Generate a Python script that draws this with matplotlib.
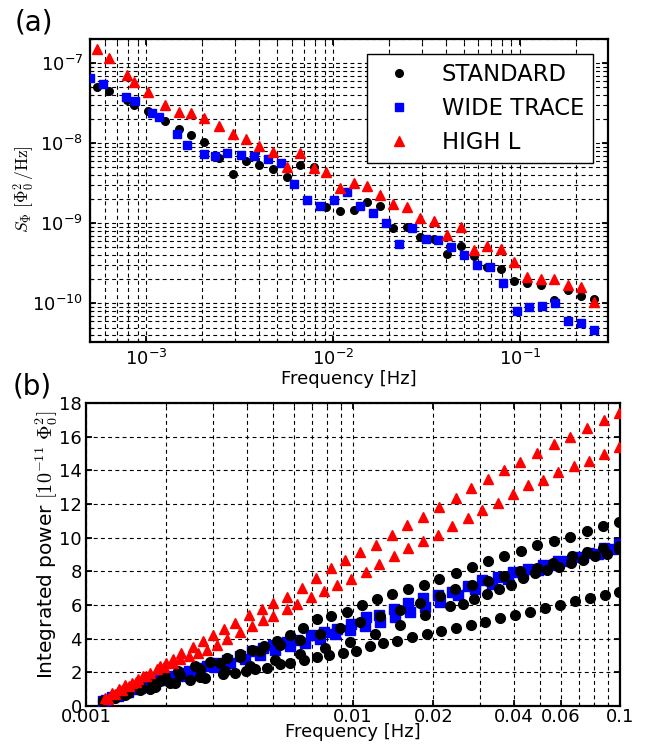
import numpy as np
import matplotlib
matplotlib.use("Agg")
import matplotlib.pyplot as plt
from matplotlib.ticker import LogLocator, NullFormatter, FixedLocator, FixedFormatter, MultipleLocator

plt.rcParams['font.family'] = ['DejaVu Sans']
plt.rcParams['mathtext.fontset'] = 'cm'

# ---------------- panel (a): noise spectral density ----------------
std_f = [5.48e-4, 6.30e-4, 7.86e-4, 8.62e-4, 1.022e-3, 1.261e-3, 1.493e-3, 1.734e-3, 2.048e-3,
         2.439e-3, 2.910e-3, 3.412e-3, 4.010e-3, 4.788e-3, 5.664e-3, 6.625e-3, 7.873e-3, 9.219e-3,
         1.0955e-2, 1.289e-2, 1.519e-2, 1.792e-2, 2.104e-2, 2.488e-2, 2.935e-2, 3.458e-2, 4.074e-2,
         4.813e-2, 5.664e-2, 6.675e-2, 7.873e-2, 9.276e-2, 0.1093, 0.1289, 0.1519, 0.1806, 0.2112, 0.2488]
std_S = [5.09e-8, 4.46e-8, 3.47e-8, 3.03e-8, 2.50e-8, 1.909e-8, 1.515e-8, 1.252e-8, 1.023e-8,
         6.51e-9, 4.18e-9, 6.02e-9, 5.36e-9, 4.83e-9, 3.84e-9, 5.32e-9, 5.06e-9, 1.596e-9,
         1.410e-9, 1.481e-9, 1.828e-9, 1.629e-9, 8.63e-10, 8.96e-10, 6.66e-10, 6.34e-10, 4.11e-10,
         5.24e-10, 3.93e-10, 2.88e-10, 2.67e-10, 1.91e-10, 1.80e-10, 1.715e-10, 1.112e-10, 1.485e-10,
         1.224e-10, 1.135e-10]
highL_S = [1.510e-7, 1.155e-7, 7.13e-8, 5.88e-8, 4.37e-8, 3.00e-8, 2.45e-8, 2.36e-8, 2.05e-8,
           1.624e-8, 1.289e-8, 1.116e-8, 9.20e-9, 7.80e-9, 5.12e-9, 7.58e-9, 4.97e-9, 4.43e-9,
           2.78e-9, 3.23e-9, 2.93e-9, 2.24e-9, 1.74e-9, 1.61e-9, 1.162e-9, 1.066e-9, 7.11e-10,
           8.88e-10, 4.61e-10, 5.24e-10, 4.75e-10, 3.30e-10, 2.14e-10, 2.04e-10, 2.00e-10, 1.68e-10,
           1.605e-10, 1.050e-10]
wide_f = [4.99e-4, 5.86e-4, 7.81e-4, 8.69e-4, 1.067e-3, 1.168e-3, 1.453e-3, 1.650e-3, 2.035e-3,
          2.330e-3, 2.703e-3, 3.212e-3, 3.770e-3, 4.503e-3, 5.260e-3, 6.204e-3, 7.248e-3, 8.478e-3,
          1.0074e-2, 1.183e-2, 1.401e-2, 1.636e-2, 1.930e-2, 2.254e-2, 2.660e-2, 3.133e-2, 3.647e-2,
          4.302e-2, 5.024e-2, 5.876e-2, 6.924e-2, 8.128e-2, 9.590e-2, 0.1120, 0.1310, 0.1543, 0.1812,
          0.2120, 0.2497]
wide_S = [6.49e-8, 5.45e-8, 3.82e-8, 3.37e-8, 2.40e-8, 2.10e-8, 1.289e-8, 9.38e-9, 7.24e-9,
          6.83e-9, 7.51e-9, 7.10e-9, 6.89e-9, 6.27e-9, 5.68e-9, 3.13e-9, 1.975e-9, 1.662e-9,
          1.975e-9, 2.49e-9, 1.642e-9, 1.358e-9, 1.017e-9, 5.55e-10, 8.81e-10, 6.41e-10, 6.23e-10,
          5.13e-10, 4.00e-10, 3.03e-10, 2.83e-10, 1.78e-10, 7.94e-11, 8.91e-11, 9.28e-11, 1.000e-10,
          6.07e-11, 5.62e-11, 4.72e-11]

labels = ["STANDARD", "WIDE TRACE", "HIGH L"]

# ---------------- panel (b): integrated power (frequencies in mHz) ----------------
r1_f = [1.178, 1.251, 1.330, 1.400, 1.486, 1.567, 1.633, 1.738, 1.892, 1.995, 2.118, 2.270, 2.518,
        2.742, 2.992, 3.289, 3.614, 4.074, 4.560, 5.012, 5.662, 6.442, 7.261, 8.279, 9.333, 10.62,
        12.19, 14.00, 15.92, 18.28, 20.99, 24.32, 27.67, 32.06, 36.81, 42.17, 48.87, 56.62, 65.01,
        75.16, 87.10, 99.08]
r1_p = [0.5, 0.8, 1.03, 1.23, 1.39, 1.63, 1.78, 1.98, 2.37, 2.53, 2.81, 3.13, 3.52, 3.86, 4.2, 4.59,
        4.95, 5.38, 5.78, 6.14, 6.49, 7.03, 7.62, 8.17, 8.66, 9.14, 9.54, 10.13, 10.74, 11.24, 11.81,
        12.37, 12.96, 13.5, 14.0, 14.5, 15.04, 15.57, 15.99, 16.5, 16.97, 17.41]
r2_f = [1.208, 1.284, 1.364, 1.449, 1.539, 1.679, 1.845, 1.959, 2.118, 2.249, 2.432, 2.624, 2.838,
        3.097, 3.373, 3.776, 4.188, 4.603, 5.012, 5.662, 6.166, 6.966, 7.780, 8.710, 9.840, 11.19,
        12.50, 14.26, 16.07, 18.28, 20.80, 23.50, 26.98, 30.41, 34.91, 39.72, 45.19, 51.52, 58.61,
        67.30, 76.56, 87.10, 99.08]
r2_p = [0.4, 0.7, 0.95, 1.2, 1.45, 1.8, 2.18, 2.34, 2.53, 2.77, 2.95, 3.13, 3.32, 3.6, 3.96, 4.39,
        4.75, 5.1, 5.34, 5.74, 6.04, 6.47, 6.83, 7.18, 7.56, 7.95, 8.43, 8.9, 9.38, 9.79, 10.15, 10.68,
        11.18, 11.66, 12.07, 12.62, 13.1, 13.45, 13.93, 14.28, 14.58, 14.96, 15.39]
b1_f = [1.158, 1.251, 1.364, 1.486, 1.633, 1.738, 1.892, 1.995, 2.118, 2.270, 2.432, 2.624, 2.838,
        3.097, 3.373, 3.776, 4.188, 4.603, 5.012, 5.662, 6.166, 6.966, 7.780, 8.710, 9.840, 11.19,
        12.50, 14.26, 16.07, 18.28, 20.80, 23.50, 26.98, 30.41, 34.91, 39.72, 45.19, 51.52, 58.61,
        67.30, 76.56, 87.10, 99.08]
b1_p = [0.3, 0.55, 0.8, 1.0, 1.2, 1.35, 1.55, 1.65, 1.8, 1.95, 2.1, 2.25, 2.4, 2.55, 2.75, 3.0, 3.26,
        3.45, 3.6, 3.8, 3.9, 4.2, 4.4, 4.6, 4.9, 5.3, 5.38, 5.78, 6.1, 6.4, 6.6, 6.75, 7.1, 7.5, 7.68,
        7.95, 8.15, 8.4, 8.6, 8.85, 9.1, 9.4, 9.6]
b2_f = [1.188, 1.318, 1.436, 1.592, 1.811, 2.065, 2.350, 2.673, 3.041, 3.459, 3.945, 4.487, 5.105,
        5.808, 6.607, 7.516, 8.570, 9.750, 11.09, 12.62, 14.36, 16.33, 18.62, 21.18, 24.72, 28.64,
        33.19, 38.11, 43.35, 49.32, 56.10, 63.83, 72.61, 82.79, 93.33]
b2_p = [0.35, 0.6, 0.85, 1.05, 1.3, 1.55, 1.8, 2.05, 2.3, 2.55, 2.8, 3.05, 3.3, 3.55, 3.75, 4.0, 4.25,
        4.5, 4.75, 5.0, 5.3, 5.6, 5.9, 6.2, 6.57, 6.93, 7.22, 7.55, 7.85, 8.1, 8.35, 8.6, 8.85, 9.05, 9.3]
k1_f = [1.158, 1.284, 1.436, 1.592, 1.766, 1.977, 2.213, 2.559, 2.911, 3.373, 3.776, 4.188, 4.645,
        5.188, 5.808, 6.501, 7.328, 8.279, 9.506, 10.81, 12.30, 14.00, 16.07, 18.45, 20.99, 24.32,
        27.93, 32.06, 36.81, 42.56, 48.87, 56.62, 65.01, 75.16, 86.30, 99.08]
k1_p = [0.3, 0.6, 0.9, 1.2, 1.5, 1.8, 2.1, 2.4, 2.6, 2.87, 3.1, 3.3, 3.55, 3.86, 4.2, 4.65, 5.15, 5.34,
        5.58, 5.98, 6.37, 6.67, 6.93, 7.2, 7.52, 7.88, 8.27, 8.63, 8.94, 9.2, 9.58, 9.82, 10.05, 10.37,
        10.68, 10.92]
k2_f = [1.158, 1.340, 1.592, 1.892, 2.249, 2.673, 3.177, 3.776, 4.487, 5.333, 6.324, 7.516, 8.933,
        10.62, 12.62, 15.00, 17.82, 21.18, 24.10, 27.93, 32.06, 36.81, 42.17, 48.87, 56.10, 66.07,
        75.16, 86.30, 99.08]
k2_p = [0.3, 0.7, 1.1, 1.5, 1.85, 2.2, 2.55, 2.9, 3.25, 3.6, 3.95, 4.3, 4.65, 5.0, 5.35, 5.7, 6.1,
        6.55, 6.97, 7.2, 7.42, 7.72, 8.01, 8.21, 8.51, 8.9, 9.14, 9.4, 9.5]
k3_f = [1.158, 1.400, 1.738, 2.153, 2.673, 3.319, 4.111, 5.105, 6.324, 7.852, 9.750, 12.08, 15.00,
        18.62, 23.07, 25.82, 28.38, 31.77, 35.24, 39.08, 43.35, 48.08, 53.33, 59.16, 65.46, 72.61,
        80.54, 89.33, 99.08]
k3_p = [0.3, 0.65, 1.0, 1.35, 1.7, 2.05, 2.4, 2.75, 3.1, 3.45, 3.8, 4.3, 4.8, 5.4, 5.93, 6.08, 6.33,
        6.65, 6.93, 7.2, 7.58, 7.88, 8.07, 8.27, 8.47, 8.65, 8.9, 9.04, 9.3]
k4_f = [1.158, 1.284, 1.436, 1.592, 1.811, 2.065, 2.455, 2.793, 3.258, 3.614, 3.972, 4.295, 4.764,
        5.333, 5.808, 6.546, 7.328, 8.128, 9.183, 10.26, 11.59, 12.94, 14.62, 16.63, 18.92, 21.38,
        24.32, 27.67, 31.19, 35.56, 40.46, 46.03, 52.36, 59.57, 67.76, 77.27, 87.90, 99.08]
k4_p = [0.3, 0.5, 0.75, 0.95, 1.15, 1.35, 1.55, 1.69, 1.88, 1.98, 2.08, 2.18, 2.28, 2.47, 2.58, 2.73,
        2.91, 3.01, 3.13, 3.26, 3.56, 3.76, 3.86, 4.12, 4.26, 4.45, 4.61, 4.79, 4.97, 5.22, 5.4, 5.6,
        5.84, 6.01, 6.21, 6.41, 6.61, 6.77]

b_xticks = [0.001, 0.01, 0.02, 0.04, 0.06, 0.1]
b_xticklabels = ["0.001", "0.01", "0.02", "0.04", "0.06", "0.1"]

W, H = 657, 747
fig = plt.figure(figsize=(W / 100, H / 100), dpi=100)

def px_axes(l, t, r, b):
    return fig.add_axes([l / W, 1 - b / H, (r - l) / W, (b - t) / H])

GRID = dict(color='black', linestyle=(0, (3.5, 3)), linewidth=0.8)

def style(ax):
    for s in ax.spines.values():
        s.set_linewidth(1.6)
    ax.tick_params(which='both', direction='in', top=True, right=True, labelsize=13, pad=5)
    ax.tick_params(which='major', length=4, width=1.3)
    ax.tick_params(which='minor', length=2, width=0.8)

# ---- top panel ----
ax1 = px_axes(90, 39, 608, 342)
ax1.set_xscale('log')
ax1.set_yscale('log')
ax1.plot(std_f, std_S, 'o', color='black', mec='black', ms=5.5, label=labels[0], zorder=3)
ax1.plot(wide_f, wide_S, 's', color='#0000ff', mec='#0000ff', ms=6, label=labels[1], zorder=4)
ax1.plot(std_f, highL_S, '^', color='#ff0000', mec='#ff0000', ms=6.5, label=labels[2], zorder=5)
ax1.set_xlim(5.0e-4, 0.296)
ax1.set_ylim(3.3e-11, 2.0e-7)
ax1.xaxis.set_major_locator(LogLocator(base=10, numticks=10))
ax1.xaxis.set_minor_locator(LogLocator(base=10, subs=np.arange(2, 10), numticks=20))
ax1.yaxis.set_major_locator(LogLocator(base=10, numticks=10))
ax1.yaxis.set_minor_locator(LogLocator(base=10, subs=np.arange(2, 10), numticks=20))
ax1.xaxis.set_minor_formatter(NullFormatter())
ax1.yaxis.set_minor_formatter(NullFormatter())
ax1.grid(True, which='both', **GRID)
ax1.set_axisbelow(True)
style(ax1)
ax1.set_xlabel("Frequency [Hz]", fontsize=13, labelpad=1)
leg = ax1.legend(loc='upper right', numpoints=1, fontsize=16.3, fancybox=False,
                 framealpha=1, edgecolor='black', borderaxespad=0.65,
                 handletextpad=0.9)
leg.get_frame().set_linewidth(1.0)
fig.text(24 / W, 1 - 189 / H, r'$S_{\Phi}\ [\Phi_0^2\,/\mathrm{Hz}]$', rotation=90,
         ha='center', va='center', fontsize=12.5)
fig.text(15 / W, 1 - 22 / H, '(a)', fontsize=20, ha='left', va='center')

# ---- bottom panel ----
ax2 = px_axes(86, 403, 620, 706)
ax2.set_xscale('log')
mhz = 1e-3
ax2.plot(np.array(b1_f) * mhz, b1_p, 's', color='#0000ff', mec='#0000ff', ms=7.5, zorder=3)
ax2.plot(np.array(b2_f) * mhz, b2_p, 's', color='#0000ff', mec='#0000ff', ms=7.5, zorder=3)
for f, p in [(k1_f, k1_p), (k2_f, k2_p), (k3_f, k3_p), (k4_f, k4_p)]:
    ax2.plot(np.array(f) * mhz, p, 'o', color='black', mec='black', ms=7, zorder=4)
for f, p in [(r1_f, r1_p), (r2_f, r2_p)]:
    ax2.plot(np.array(f) * mhz, p, '^', color='#ff0000', mec='#ff0000', ms=7, zorder=5)
ax2.set_xlim(0.001, 0.1)
ax2.set_ylim(0, 18)
ax2.xaxis.set_major_locator(FixedLocator(b_xticks))
ax2.xaxis.set_major_formatter(FixedFormatter(b_xticklabels))
ax2.xaxis.set_minor_locator(LogLocator(base=10, subs=np.arange(2, 10), numticks=20))
ax2.xaxis.set_minor_formatter(NullFormatter())
ax2.yaxis.set_major_locator(MultipleLocator(2))
ax2.grid(True, which='major', axis='both', **GRID)
ax2.grid(True, which='minor', axis='x', **GRID)
ax2.set_axisbelow(True)
style(ax2)
ax2.tick_params(axis='x', which='both', pad=1.5)
ax2.tick_params(axis='y', which='both', pad=3)
ax2.tick_params(axis='y', which='minor', left=False, right=False)
ax2.set_xlabel("Frequency [Hz]", fontsize=13, labelpad=-2)
fig.text(47 / W, 1 - 545 / H, r'Integrated power $[10^{-11}\ \Phi_0^2]$', rotation=90,
         ha='center', va='center', fontsize=14.5)
fig.text(13 / W, 1 - 386 / H, '(b)', fontsize=20, ha='left', va='center')

fig.savefig('out.png', dpi=100)
